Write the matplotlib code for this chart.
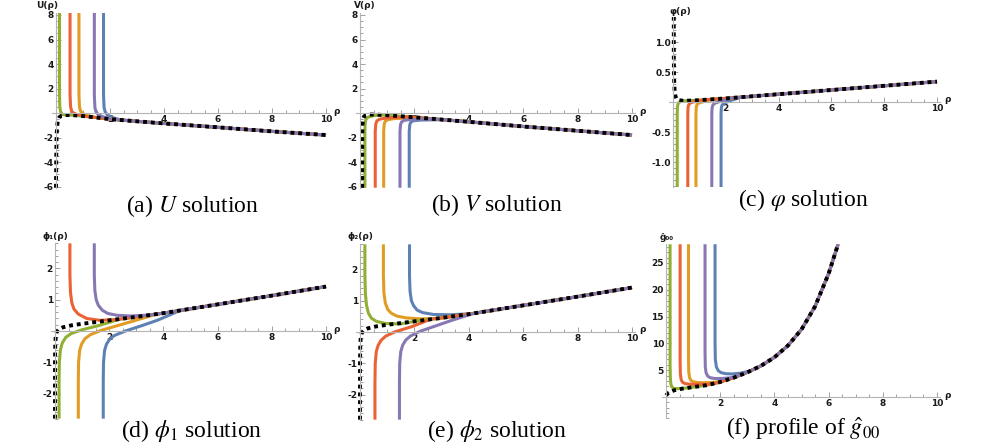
import matplotlib.pyplot as plt
from matplotlib.ticker import MultipleLocator, FuncFormatter

plt.rcParams['mathtext.fontset'] = 'stix'
plt.rcParams['font.family'] = ['DejaVu Sans']

W, H = 996, 445

BLUE = '#5E81B5'
ORANGE = '#E19C24'
GREEN = '#8FB032'
RED = '#EB6235'
PURPLE = '#8778B3'
INK = '#1a1a1a'
TICK_SIZE = 6.5

# ---- (a) U solution ----
dot_a_x = [0.0, 0.01, 0.02, 0.04, 0.07, 0.12, 0.2, 0.35, 0.6, 1.0, 1.5, 2.0, 3.0, 4.0, 6.0, 8.0, 10.0]
dot_a_y = [-6.1, -3.5, -2.0, -1.1, -0.6, -0.35, -0.22, -0.16, -0.17, -0.25, -0.37, -0.5, -0.68, -0.85, -1.17, -1.5, -1.8]
green_a_x = [0.13, 0.13, 0.14, 0.17, 0.24, 0.35]
green_a_y = [8.2, 1.5, 0.5, 0.1, -0.12, -0.16]
red_a_x = [0.52, 0.52, 0.54, 0.58, 0.66, 0.8, 1.0]
red_a_y = [8.2, 1.5, 0.5, 0.15, -0.02, -0.14, -0.25]
orange_a_x = [0.85, 0.85, 0.87, 0.91, 0.99, 1.15, 1.4]
orange_a_y = [8.2, 1.5, 0.5, 0.15, -0.05, -0.2, -0.35]
purple_a_x = [1.42, 1.42, 1.44, 1.48, 1.56, 1.75, 2.0]
purple_a_y = [8.2, 1.5, 0.45, 0.1, -0.12, -0.32, -0.5]
blue_a_x = [1.76, 1.76, 1.78, 1.82, 1.9, 2.1, 2.4]
blue_a_y = [8.2, 1.5, 0.45, 0.1, -0.15, -0.38, -0.57]

# ---- (b) V solution ----
dot_b_x = [0.08, 0.08, 0.09, 0.11, 0.15, 0.22, 0.35, 0.6, 1.0, 2.0, 4.0, 6.0, 8.0, 10.0]
dot_b_y = [-6.1, -2.0, -1.0, -0.5, -0.28, -0.17, -0.12, -0.13, -0.18, -0.35, -0.72, -1.1, -1.45, -1.8]
green_b_x = [0.18, 0.18, 0.19, 0.22, 0.3, 0.5, 0.8]
green_b_y = [-6.1, -1.5, -0.8, -0.5, -0.33, -0.22, -0.17]
red_b_x = [0.56, 0.56, 0.58, 0.62, 0.72, 0.95, 1.3, 1.8]
red_b_y = [-6.1, -1.5, -0.9, -0.65, -0.5, -0.42, -0.36, -0.32]
orange_b_x = [0.87, 0.87, 0.89, 0.93, 1.03, 1.25, 1.6, 2.2]
orange_b_y = [-6.1, -1.5, -0.9, -0.67, -0.54, -0.46, -0.42, -0.39]
purple_b_x = [1.47, 1.47, 1.49, 1.53, 1.63, 1.85, 2.2, 2.7]
purple_b_y = [-6.1, -1.5, -0.95, -0.72, -0.6, -0.53, -0.5, -0.48]
blue_b_x = [1.81, 1.81, 1.83, 1.87, 1.97, 2.2, 2.6, 3.1]
blue_b_y = [-6.1, -1.5, -0.95, -0.74, -0.63, -0.58, -0.56, -0.55]

# ---- (c) varphi solution ----
dot_c_x = [0.03, 0.03, 0.04, 0.06, 0.09, 0.14, 0.22, 0.4, 0.8, 2.0, 4.0, 6.0, 8.0, 10.0]
dot_c_y = [1.42, 0.8, 0.4, 0.2, 0.1, 0.05, 0.03, 0.02, 0.025, 0.06, 0.13, 0.2, 0.27, 0.34]
green_c_x = [0.16, 0.16, 0.17, 0.2, 0.27, 0.4]
green_c_y = [-1.42, -0.2, -0.07, -0.02, 0.005, 0.02]
red_c_x = [0.56, 0.56, 0.57, 0.6, 0.68, 0.85, 1.1]
red_c_y = [-1.42, -0.2, -0.09, -0.04, -0.01, 0.01, 0.034]
orange_c_x = [0.87, 0.87, 0.88, 0.91, 0.99, 1.15, 1.5]
orange_c_y = [-1.42, -0.2, -0.09, -0.04, -0.015, 0.005, 0.045]
purple_c_x = [1.47, 1.47, 1.48, 1.51, 1.59, 1.78, 2.2]
purple_c_y = [-1.42, -0.2, -0.1, -0.05, -0.02, 0.01, 0.067]
blue_c_x = [1.82, 1.82, 1.83, 1.86, 1.94, 2.15, 2.6]
blue_c_y = [-1.42, -0.2, -0.1, -0.05, -0.02, 0.02, 0.081]

# ---- (d) phi_1 solution ----
dot_d_x = [0.0, 0.0, 0.01, 0.03, 0.07, 0.15, 0.3, 0.6, 1.0, 2.0, 3.0, 4.0, 6.0, 8.0, 10.0]
dot_d_y = [-2.8, -1.0, -0.4, -0.15, -0.02, 0.06, 0.12, 0.18, 0.23, 0.34, 0.45, 0.57, 0.85, 1.13, 1.42]
red_d_x = [0.55, 0.55, 0.57, 0.62, 0.7, 0.86, 1.17, 1.66, 2.3]
red_d_y = [2.8, 1.8, 1.25, 0.9, 0.7, 0.54, 0.4, 0.34, 0.37]
purple_d_x = [1.45, 1.45, 1.47, 1.52, 1.6, 1.75, 1.95, 2.3, 2.8, 3.5]
purple_d_y = [2.8, 1.8, 1.3, 1.0, 0.82, 0.66, 0.56, 0.5, 0.48, 0.51]
green_d_x = [0.15, 0.15, 0.16, 0.2, 0.27, 0.4, 0.6, 1.0, 1.6, 2.4]
green_d_y = [-2.8, -1.6, -1.0, -0.6, -0.38, -0.2, -0.08, 0.04, 0.17, 0.38]
orange_d_x = [0.86, 0.86, 0.87, 0.91, 0.98, 1.1, 1.3, 1.7, 2.3, 2.9, 3.7]
orange_d_y = [-2.8, -1.6, -1.0, -0.62, -0.42, -0.25, -0.12, 0.02, 0.17, 0.32, 0.53]
blue_d_x = [1.78, 1.78, 1.79, 1.83, 1.9, 2.02, 2.2, 2.6, 3.2, 3.8, 4.6]
blue_d_y = [-2.8, -1.6, -1.0, -0.62, -0.42, -0.26, -0.14, 0.0, 0.17, 0.35, 0.65]

# ---- (e) phi_2 solution ----
dot_e_x = [0.0, 0.0, 0.01, 0.03, 0.07, 0.15, 0.3, 0.6, 1.0, 2.0, 3.0, 4.0, 6.0, 8.0, 10.0]
dot_e_y = [-2.8, -1.0, -0.4, -0.15, -0.02, 0.06, 0.12, 0.18, 0.23, 0.34, 0.45, 0.57, 0.85, 1.13, 1.42]
green_e_x = [0.18, 0.18, 0.2, 0.24, 0.31, 0.42, 0.6, 0.95, 1.5, 2.1]
green_e_y = [2.8, 1.8, 1.2, 0.85, 0.6, 0.44, 0.34, 0.27, 0.26, 0.35]
orange_e_x = [0.86, 0.86, 0.88, 0.93, 1.02, 1.15, 1.35, 1.7, 2.2, 2.8, 3.2]
orange_e_y = [2.8, 1.8, 1.25, 0.93, 0.72, 0.6, 0.51, 0.45, 0.42, 0.43, 0.47]
blue_e_x = [1.82, 1.82, 1.84, 1.89, 1.97, 2.1, 2.3, 2.7, 3.3, 4.1]
blue_e_y = [2.8, 1.8, 1.3, 1.0, 0.84, 0.7, 0.62, 0.56, 0.55, 0.585]
red_e_x = [0.55, 0.55, 0.56, 0.6, 0.67, 0.78, 0.95, 1.3, 1.9, 2.6]
red_e_y = [-2.8, -1.6, -1.0, -0.62, -0.42, -0.26, -0.13, 0.01, 0.17, 0.41]
purple_e_x = [1.45, 1.45, 1.46, 1.5, 1.57, 1.68, 1.85, 2.2, 2.8, 3.4, 4.2]
purple_e_y = [-2.8, -1.6, -1.0, -0.62, -0.42, -0.26, -0.13, 0.02, 0.2, 0.38, 0.6]

# ---- (f) profile of g00 ----
dot_f_x = [0.0, 0.1, 0.3, 0.6, 1.0, 1.5, 2.0, 2.5, 3.0, 3.5, 4.0, 4.5, 5.0, 5.5, 6.0, 6.35]
dot_f_y = [0.3, 0.8, 1.25, 1.55, 1.85, 2.2, 2.8, 3.6, 4.6, 5.8, 7.4, 9.6, 12.6, 16.9, 23.0, 28.5]
green_f_x = [0.15, 0.15, 0.16, 0.18, 0.22, 0.3, 0.45, 0.7, 1.0]
green_f_y = [28.5, 6.0, 3.5, 2.4, 1.85, 1.6, 1.55, 1.65, 1.85]
red_f_x = [0.52, 0.52, 0.53, 0.56, 0.61, 0.7, 0.85, 1.05, 1.7]
red_f_y = [28.5, 7.0, 4.3, 3.2, 2.75, 2.5, 2.4, 2.35, 2.38]
orange_f_x = [0.83, 0.83, 0.84, 0.87, 0.92, 1.0, 1.15, 1.4, 1.8, 2.1]
orange_f_y = [28.5, 7.5, 4.7, 3.6, 3.1, 2.85, 2.7, 2.65, 2.75, 2.96]
purple_f_x = [1.44, 1.44, 1.45, 1.48, 1.54, 1.63, 1.8, 2.05, 2.4, 2.7]
purple_f_y = [28.5, 8.5, 5.6, 4.5, 3.9, 3.6, 3.45, 3.45, 3.6, 4.0]
blue_f_x = [1.81, 1.81, 1.82, 1.86, 1.93, 2.03, 2.2, 2.45, 2.75, 3.1]
blue_f_y = [28.5, 10.0, 7.0, 5.6, 4.9, 4.55, 4.35, 4.3, 4.45, 4.85]


def px(x, y):
    return x / W, 1 - y / H


def tick_fmt(decimals):
    def f(v, pos):
        if abs(v) < 1e-9:
            return ''
        return f'{v:.{decimals}f}'
    return FuncFormatter(f)


def make_panel(fig, origin, sx, sy, xlim, ylim, ymaj, ymin, ydec=0):
    ox, oy = origin
    left = ox + xlim[0] * sx
    right = ox + xlim[1] * sx
    top = oy - ylim[1] * sy
    bottom = oy - ylim[0] * sy
    ax = fig.add_axes([left / W, 1 - bottom / H, (right - left) / W, (bottom - top) / H])
    ax.set_xlim(xlim)
    ax.set_ylim(ylim)
    ax.patch.set_alpha(0)
    for s in ['top', 'right']:
        ax.spines[s].set_visible(False)
    ax.spines['left'].set_position(('data', 0))
    ax.spines['bottom'].set_position(('data', 0))
    for s in ['left', 'bottom']:
        ax.spines[s].set_color('#b4b4b4')
        ax.spines[s].set_linewidth(0.8)
    ax.xaxis.set_major_locator(MultipleLocator(2))
    ax.xaxis.set_minor_locator(MultipleLocator(0.5))
    ax.yaxis.set_major_locator(MultipleLocator(ymaj))
    ax.yaxis.set_minor_locator(MultipleLocator(ymin))
    ax.xaxis.set_major_formatter(tick_fmt(0))
    ax.yaxis.set_major_formatter(tick_fmt(ydec))
    ax.tick_params(which='both', direction='in', color='#a0a0a0', width=0.7,
                   labelsize=TICK_SIZE, labelcolor=INK, pad=1.5)
    ax.tick_params(which='major', length=3.5)
    ax.tick_params(which='minor', length=2)
    fig.text(*px(right + 5, oy - 2), 'ρ', fontsize=TICK_SIZE, ha='left', va='center',
             color=INK, weight='bold')
    return ax


def curve(ax, hx, hy, tx, ty, color):
    last = hx[-1]
    xs = list(hx) + [a for a in tx if a > last]
    ys = list(hy) + [b for a, b in zip(tx, ty) if a > last]
    ax.plot(xs, ys, color=color, lw=2.2, solid_capstyle='butt')


def dotted(ax, x, y):
    ax.plot(x, y, color='black', lw=2.8, linestyle=(0, (1, 1)), dash_capstyle='butt')


def axis_name(fig, x, y, s):
    fig.text(*px(x, y), s, fontsize=TICK_SIZE, ha='center', va='center', color=INK, weight='bold')


def caption(fig, x, y, s):
    fig.text(*px(x, y), s, fontsize=17, ha='center', va='center',
             family=['Liberation Serif', 'DejaVu Serif'])


fig = plt.figure(figsize=(9.96, 4.45), dpi=100)

xl = (-0.15, 10.1)

# (a)
ax = make_panel(fig, (56, 113), 27.0, 12.25, xl, (-6.1, 8.2), 2, 0.5)
for hx, hy, c in [(blue_a_x, blue_a_y, BLUE), (orange_a_x, orange_a_y, ORANGE),
                  (green_a_x, green_a_y, GREEN), (red_a_x, red_a_y, RED),
                  (purple_a_x, purple_a_y, PURPLE)]:
    curve(ax, hx, hy, dot_a_x, dot_a_y, c)
dotted(ax, dot_a_x, dot_a_y)
axis_name(fig, 47, 6, 'U(ρ)')
caption(fig, 192, 206, '(a) $U$ solution')

# (b)
ax = make_panel(fig, (360, 113), 27.2, 12.25, xl, (-6.1, 8.2), 2, 0.5)
for hx, hy, c in [(blue_b_x, blue_b_y, BLUE), (orange_b_x, orange_b_y, ORANGE),
                  (green_b_x, green_b_y, GREEN), (red_b_x, red_b_y, RED),
                  (purple_b_x, purple_b_y, PURPLE)]:
    curve(ax, hx, hy, dot_b_x, dot_b_y, c)
dotted(ax, dot_b_x, dot_b_y)
axis_name(fig, 365, 6, 'V(ρ)')
caption(fig, 497, 205, '(b) $V$ solution')

# (c)
ax = make_panel(fig, (673, 102), 26.4, 60.0, xl, (-1.42, 1.42), 0.5, 0.1, ydec=1)
for hx, hy, c in [(blue_c_x, blue_c_y, BLUE), (orange_c_x, orange_c_y, ORANGE),
                  (green_c_x, green_c_y, GREEN), (red_c_x, red_c_y, RED),
                  (purple_c_x, purple_c_y, PURPLE)]:
    curve(ax, hx, hy, dot_c_x, dot_c_y, c)
dotted(ax, dot_c_x, dot_c_y)
axis_name(fig, 680, 12, 'φ(ρ)')
caption(fig, 803, 200, r'(c) $\varphi$ solution')

# (d)
ax = make_panel(fig, (55, 331), 27.1, 31.3, xl, (-2.8, 2.8), 1, 0.2)
for hx, hy, c in [(blue_d_x, blue_d_y, BLUE), (orange_d_x, orange_d_y, ORANGE),
                  (green_d_x, green_d_y, GREEN), (red_d_x, red_d_y, RED),
                  (purple_d_x, purple_d_y, PURPLE)]:
    curve(ax, hx, hy, dot_d_x, dot_d_y, c)
dotted(ax, dot_d_x, dot_d_y)
axis_name(fig, 55, 236, 'ϕ₁(ρ)')
caption(fig, 192, 431, r'(d) $\phi_1$ solution')

# (e)
ax = make_panel(fig, (360, 332), 27.2, 31.3, xl, (-2.8, 2.8), 1, 0.2)
for hx, hy, c in [(blue_e_x, blue_e_y, BLUE), (orange_e_x, orange_e_y, ORANGE),
                  (green_e_x, green_e_y, GREEN), (red_e_x, red_e_y, RED),
                  (purple_e_x, purple_e_y, PURPLE)]:
    curve(ax, hx, hy, dot_e_x, dot_e_y, c)
dotted(ax, dot_e_x, dot_e_y)
axis_name(fig, 360, 236, 'ϕ₂(ρ)')
caption(fig, 497, 431, r'(e) $\phi_2$ solution')

# (f)
ax = make_panel(fig, (666, 397), 27.1, 5.36, xl, (-4.0, 28.5), 5, 1)
for hx, hy, c in [(blue_f_x, blue_f_y, BLUE), (orange_f_x, orange_f_y, ORANGE),
                  (green_f_x, green_f_y, GREEN), (red_f_x, red_f_y, RED),
                  (purple_f_x, purple_f_y, PURPLE)]:
    curve(ax, hx, hy, dot_f_x, dot_f_y, c)
dotted(ax, dot_f_x, dot_f_y)
axis_name(fig, 667, 237, 'ĝ₀₀')
caption(fig, 803, 429, r'(f) profile of $\hat{g}_{00}$')

# make the tick numbers bold once the ticks exist
fig.canvas.draw()
for a in fig.axes:
    for lab in a.get_xticklabels() + a.get_yticklabels():
        lab.set_fontweight('bold')

fig.savefig('out.png', dpi=100)
